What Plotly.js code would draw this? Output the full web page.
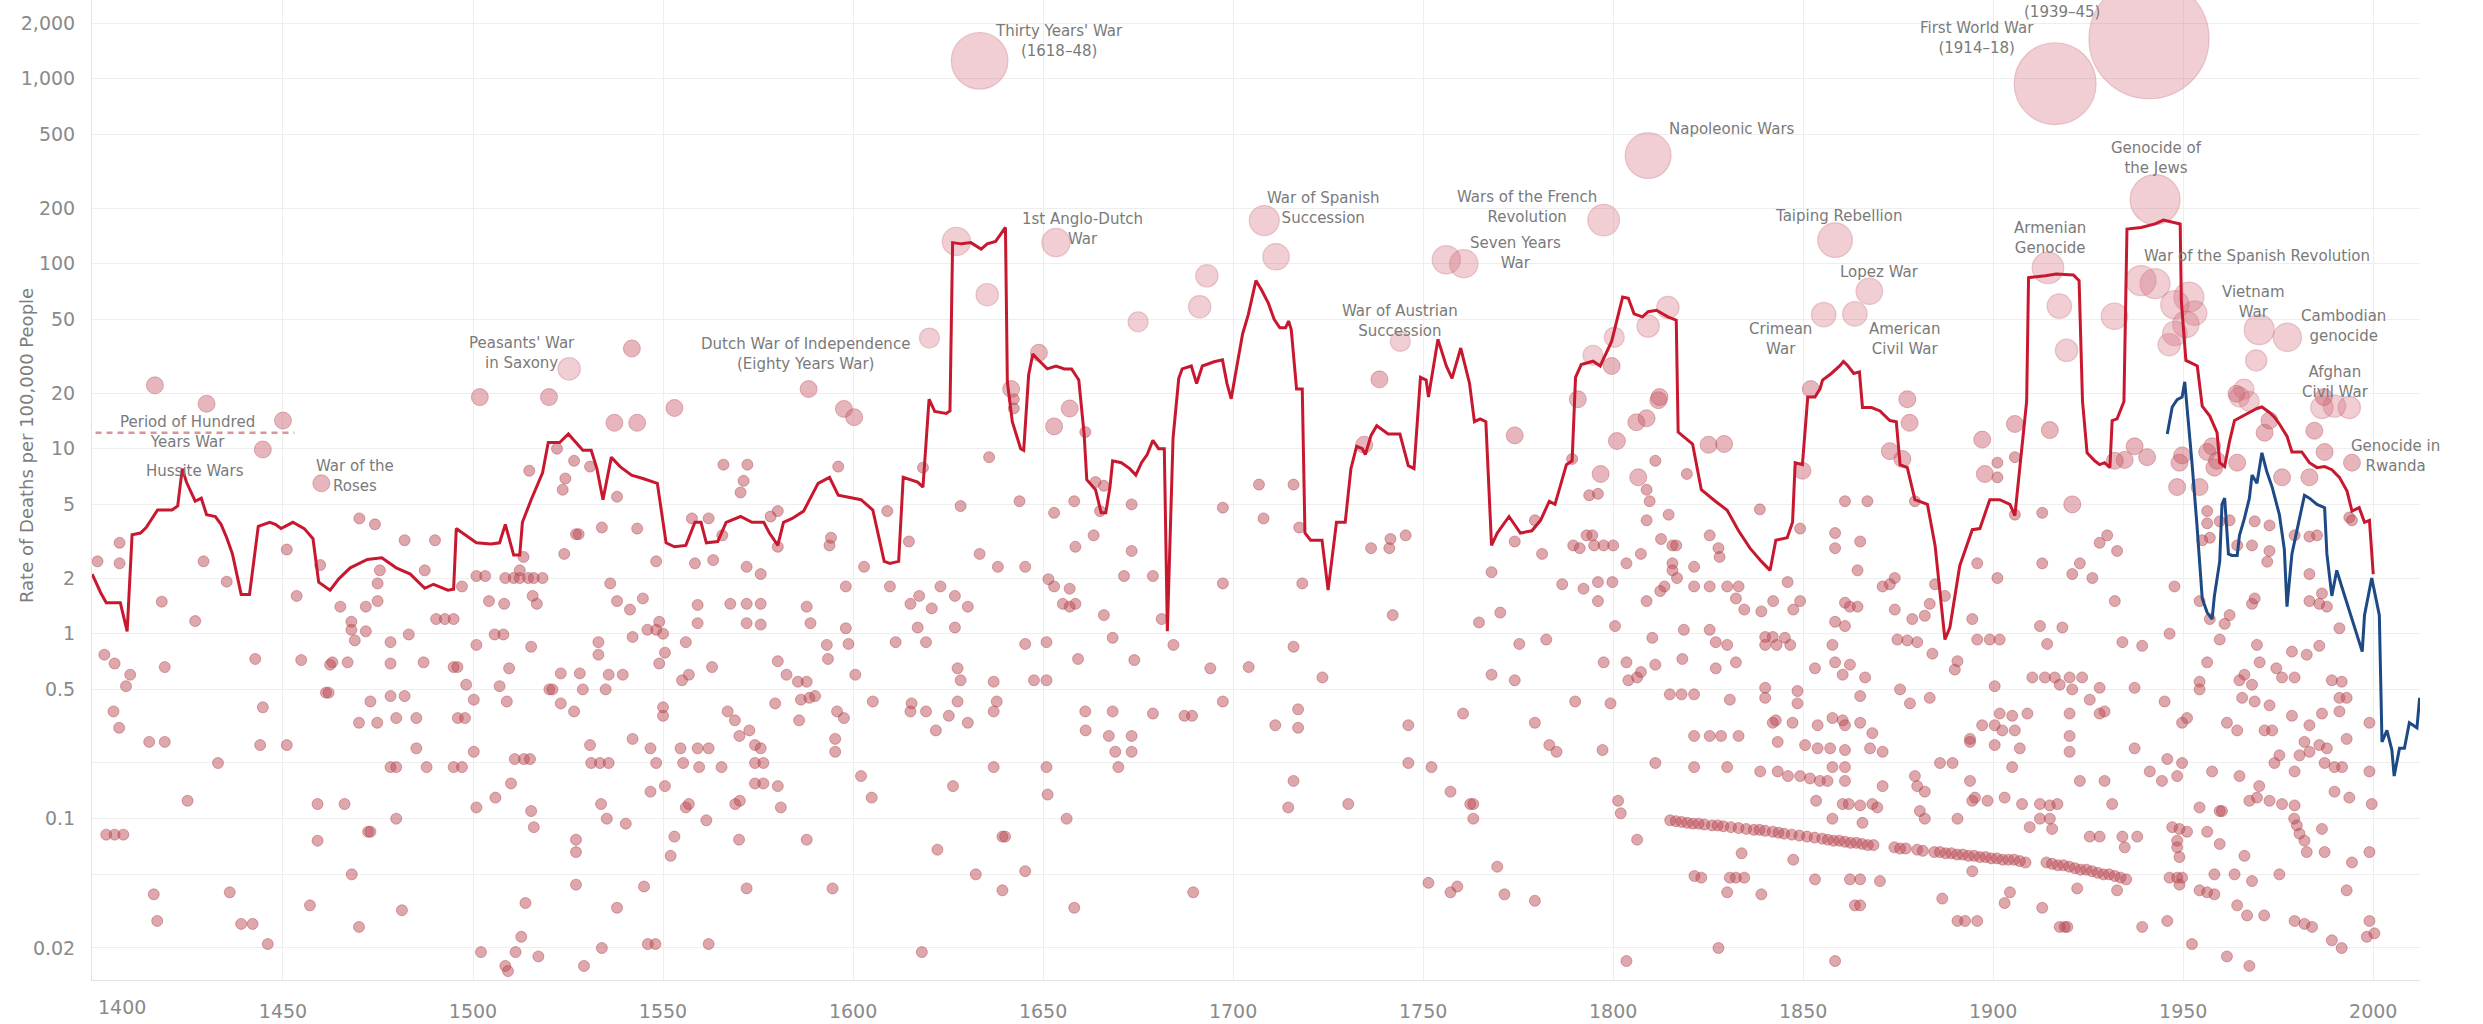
<!DOCTYPE html>
<html><head><meta charset="utf-8">
<script src="https://cdn.plot.ly/plotly-3.0.1.min.js"></script>
<style>html,body{margin:0;padding:0;background:#fff}</style>
</head><body>
<div id="chart" style="width:2483px;height:1024px"></div>
<script>
// ---------- DATA (year, deaths per 100,000 people) ----------
const xTickYears = [1450,1500,1550,1600,1650,1700,1750,1800,1850,1900,1950,2000];
const yTickValues = [0.02,0.05,0.1,0.2,0.5,1,2,5,10,20,50,100,200,500,1000,2000];
const yTickLabels = ['0.02','','0.1','','0.5','1','2','5','10','20','50','100','200','500','1,000','2,000'];

// Hundred Years' War period (years) and its rate
const hundredYearsSpan = [1337, 1453];
const hundredYearsRate = 12.2;

// Smoothed rate of all conflict deaths (red)
const redLine = [[1399.8,2.1],[1402,1.67],[1403.5,1.47],[1407.2,1.47],[1409,1.03],[1410.3,3.43],[1412.5,3.5],[1414,3.75],[1417,4.66],[1420.8,4.66],[1422.3,4.9],[1423.5,7.8],[1424.6,6.6],[1426.9,5.2],[1428.5,5.4],[1429.9,4.4],[1432.2,4.3],[1433.7,3.9],[1435.2,3.3],[1436.7,2.7],[1439,1.63],[1441.2,1.63],[1443.5,3.8],[1446.5,4.0],[1448,3.9],[1449.5,3.7],[1452.6,4.0],[1455.6,3.7],[1457.9,3.26],[1459.4,1.9],[1462.4,1.72],[1464.7,1.98],[1467.7,2.27],[1472.2,2.52],[1476,2.57],[1479.8,2.27],[1483.5,2.1],[1487.3,1.76],[1489.6,1.85],[1493.4,1.72],[1494.9,1.74],[1495.6,3.7],[1497.9,3.43],[1500.9,3.1],[1504.7,3.05],[1507,3.1],[1508.5,3.9],[1510.7,2.66],[1512.3,2.66],[1513,4.0],[1515.3,5.3],[1518.3,7.4],[1519.8,10.8],[1522.8,10.8],[1525.1,12],[1526.6,11.1],[1528.9,9.8],[1531.1,9.8],[1532.6,7.8],[1534.2,5.3],[1536.4,9.0],[1538.7,8.0],[1541.7,7.2],[1544.7,6.9],[1548.5,6.5],[1550.8,3.1],[1553,2.95],[1556,3.0],[1558.4,4.0],[1560,4.0],[1561.4,3.1],[1564.4,3.15],[1566.6,4.0],[1570.4,4.3],[1573.4,4.0],[1576.5,4.0],[1578,3.5],[1580.2,3.0],[1581.7,4.0],[1584,4.2],[1587,4.6],[1590.8,6.5],[1593.8,7.0],[1596.1,5.6],[1598.4,5.5],[1602.1,5.3],[1605.2,4.66],[1606.7,3.43],[1608.2,2.46],[1609.7,2.4],[1612,2.46],[1613.2,7.0],[1617,6.6],[1618.4,6.2],[1620,18.5],[1621.5,15.9],[1624.5,15.5],[1625.5,16],[1626.2,130],[1628.5,128],[1631,130],[1633.7,120],[1635.3,128],[1637.5,132],[1639,145],[1640.1,157],[1640.6,23],[1641.9,14],[1644.1,10],[1644.9,9.8],[1646.2,25],[1647.3,32.5],[1648.9,30],[1651.1,27],[1653.4,28],[1655.6,27],[1657.5,27],[1659.4,23.5],[1660.8,12],[1661.5,6.8],[1663.8,6.0],[1665.3,4.5],[1666.5,4.5],[1667.6,6.2],[1668.3,8.6],[1670.6,8.4],[1672.8,7.8],[1674.4,7.2],[1675.9,8.4],[1677.4,9.3],[1678.9,11.1],[1680.4,10],[1681.9,10],[1682.7,1.03],[1684.2,11.4],[1685.7,24],[1686.6,27],[1689,28],[1690.4,22.5],[1691.9,28],[1695,29.5],[1697.2,30.2],[1698.4,22.5],[1699.5,18.6],[1701,28],[1702.5,41.7],[1704,53],[1706,81],[1707.5,72],[1709.3,61],[1710.8,50],[1712.3,45],[1713.8,45],[1714.6,49],[1715.3,44],[1716.7,21],[1718.2,21],[1718.9,3.5],[1720.4,3.2],[1723.4,3.2],[1725,1.72],[1727.2,4.0],[1729.5,4.0],[1731,7.8],[1732.5,10.3],[1734,10],[1734.8,9.3],[1736.3,11.8],[1737.8,13.3],[1740.8,12],[1743.9,12],[1746.1,8.1],[1747.6,7.8],[1749.3,24.3],[1750.8,23.5],[1751.4,19],[1753.9,39],[1756.1,28],[1757.6,24],[1759.9,35],[1762.2,22.6],[1763.5,14],[1765,14.5],[1766.5,14],[1768,3.0],[1769.5,3.5],[1772.6,4.3],[1775.6,3.5],[1778.6,3.6],[1780.9,4.1],[1783.2,5.2],[1784.7,5.0],[1787.7,8.2],[1789.2,8.6],[1790.1,24.3],[1791.6,28.5],[1794.7,29.7],[1796.6,28],[1799.6,38],[1802.5,66],[1804,65],[1805.5,53.6],[1807.7,51.6],[1809.2,55],[1811.4,56],[1814.4,51.6],[1816.6,49.5],[1817.1,12.3],[1820.9,10.6],[1823.2,6.0],[1826.9,5.2],[1830,4.65],[1833,3.6],[1836,2.9],[1839,2.46],[1841.3,2.2],[1842.8,3.2],[1845.8,3.3],[1847.2,4.0],[1847.9,8.4],[1849.8,8.2],[1851.2,19],[1853.1,19],[1854.4,21],[1855.1,23.5],[1857.4,25.5],[1859.6,28],[1860.6,29.6],[1861.8,28],[1863.3,25.5],[1864.8,26],[1865.6,16.7],[1868,16.7],[1870.2,16],[1872.8,14.2],[1874.5,14],[1875.5,8.2],[1877.4,7.9],[1879.4,5.3],[1882.7,5.0],[1884.7,3.0],[1887.3,0.93],[1888.6,1.08],[1889.9,1.58],[1891.2,2.33],[1894.5,3.65],[1896.5,3.7],[1899.1,5.3],[1901.7,5.3],[1904.4,5.0],[1905.7,4.35],[1908.8,18],[1909.3,84],[1913.7,86],[1916.6,88],[1921.1,87],[1922.6,81],[1923.5,18],[1924.7,9.5],[1926.7,8.6],[1928,8.2],[1929.3,8.4],[1930.7,7.9],[1931.3,14.2],[1932.6,14.5],[1934.4,18],[1935.2,154],[1938.9,157],[1942.6,164],[1944.8,172],[1947.8,167],[1949.2,164],[1949.5,63],[1950.7,30],[1952.2,29],[1953.7,28],[1955,17],[1957,15],[1958.9,12.2],[1959.6,8.4],[1960.9,8.0],[1962.2,11],[1963.5,14.2],[1965.5,15],[1967.4,15.7],[1969.4,16.5],[1970.7,16.8],[1972.7,15.7],[1974,14.8],[1975.3,13.6],[1977.3,11.7],[1978.6,9.6],[1981.2,9.6],[1983.2,8.4],[1985.2,7.9],[1987.2,8.0],[1989.1,7.7],[1991.1,7.0],[1993.1,5.9],[1994.4,4.6],[1996.3,4.8],[1997.7,4.0],[1999,4.1],[2000,2.1]];

// Recent battle-death rate (blue)
const blueLine = [[1945.8,12],[1947.1,16.8],[1948.4,18.4],[1949.7,19],[1950.4,23],[1951,17],[1952.3,8.4],[1953.6,3.9],[1955,1.55],[1956.3,1.3],[1957.6,1.2],[1958.2,1.6],[1959.6,2.46],[1960.2,5.0],[1960.9,5.4],[1961.9,2.7],[1962.8,2.65],[1964.2,2.65],[1964.8,3.4],[1966.1,4.2],[1967.4,5.4],[1968.1,7.2],[1969.4,6.5],[1970.7,9.5],[1972,7.5],[1973.4,6.2],[1975.3,4.4],[1976.6,2.86],[1977.3,1.4],[1978.6,2.7],[1979.9,3.6],[1981.9,5.6],[1983.2,5.4],[1985.2,5.0],[1987.2,4.8],[1987.8,2.7],[1989.1,1.6],[1990.4,2.2],[1991.7,1.8],[1993.7,1.33],[1995.7,0.98],[1997.1,0.8],[1997.7,1.26],[1999.6,2.0],[2001.6,1.26],[2002.3,0.26],[2003.6,0.30],[2004.9,0.235],[2005.5,0.17],[2006.9,0.24],[2008.2,0.24],[2009.5,0.33],[2011.5,0.31],[2012.2,0.45]];

// Individual conflicts (small dots)
const dots1400s = [[1401.2,2.46],[1407,2.4],[1407,3.1],[1403,0.77],[1405.7,0.69],[1409.8,0.6],[1408.7,0.52],[1405.4,0.38],[1406.9,0.31],[1403.5,0.082],[1405.7,0.082],[1408,0.082],[1418.1,1.49],[1418.9,0.66],[1414.8,0.26],[1418.9,0.26],[1416,0.039],[1416.9,0.028],[1424.9,0.125],[1426.9,1.17],[1429.1,2.46],[1435.2,1.91],[1432.9,0.2],[1436,0.04],[1439,0.027],[1442,0.027],[1442.7,0.73],[1444.7,0.4],[1444,0.25],[1446,0.021],[1451,2.85],[1451,0.25],[1453.6,1.6],[1454.8,0.72],[1457.1,0.034],[1459.1,0.12],[1459.1,0.076],[1459.8,2.35],[1461.3,0.48],[1462,0.48],[1462.4,0.68],[1463,0.7],[1467,0.7],[1465.1,1.4],[1466.2,0.12],[1468,1.16],[1468,1.05],[1468.9,0.92],[1468.1,0.05],[1470.1,4.2],[1470,0.026],[1471.8,1.03],[1471.8,1.4],[1474.9,1.5],[1473,0.43],[1472.4,0.085],[1473,0.085],[1474.2,3.9],[1474.9,1.87],[1475.5,2.2],[1470,0.33],[1474.8,0.33],[1478.3,0.9],[1478.3,0.69],[1478.3,0.46],[1482,0.46],[1479.8,0.35],[1478.3,0.19],[1479.8,0.19],[1479.8,0.1],[1481.3,0.032],[1482,3.2],[1483.1,0.99],[1485.1,0.35],[1485.1,0.24],[1487,0.7],[1487.8,0.19],[1487.3,2.2],[1490,3.2],[1490.3,1.2],[1492.6,1.2],[1494.9,1.2],[1494.9,0.66],[1495.9,0.66],[1494.9,0.19],[1497.1,0.19],[1496,0.35],[1497.9,0.35],[1497.1,1.8],[1498.2,0.53]];
const dots1500s = [[1500.2,0.44],[1500.2,0.23],[1500.9,0.115],[1500.9,0.87],[1500.9,2.05],[1503.2,2.05],[1502.1,0.019],[1504.2,1.5],[1508.2,1.45],[1505.7,0.99],[1508,0.99],[1505.9,0.13],[1507,0.52],[1508.5,2.0],[1510.7,2.0],[1512.3,2.0],[1514.5,2.0],[1516,2.0],[1508.9,0.43],[1509.5,0.65],[1510,0.155],[1508.5,0.016],[1509.2,0.015],[1511.2,0.019],[1511,0.21],[1513.4,0.21],[1515,0.21],[1512.3,2.2],[1513.3,2.6],[1512.7,0.023],[1513.8,0.035],[1515.3,0.11],[1516,0.09],[1514.8,7.6],[1515.7,1.6],[1516.8,1.45],[1515.3,0.85],[1517.2,0.018],[1518.3,2.0],[1520.1,0.5],[1520.9,0.5],[1522.1,10],[1523.1,0.61],[1523.1,0.42],[1523.6,6.0],[1524.3,6.9],[1524,2.7],[1526.6,8.6],[1527.1,3.45],[1527.8,3.45],[1526.6,0.38],[1527.1,0.077],[1527.1,0.066],[1527.1,0.044],[1528.1,0.61],[1528.9,0.5],[1529.2,0.016],[1530.8,8.0],[1530.8,0.25],[1531.1,0.2],[1533.4,0.2],[1535.7,0.2],[1533,0.9],[1533,0.77],[1533.7,0.12],[1533.9,0.02],[1533.9,3.75],[1534.9,0.5],[1535.2,0.1],[1535.7,0.6],[1536.1,1.87],[1537.9,5.5],[1537.9,1.5],[1537.9,0.033],[1539.4,0.6],[1540.2,0.094],[1541.3,1.35],[1542,0.96],[1542,0.27],[1543.2,3.7],[1544.7,1.55],[1545,0.043],[1545.9,1.05],[1548.2,1.05],[1546.7,0.24],[1546.7,0.14],[1550.5,0.15],[1548.2,0.2],[1546,0.021],[1548,0.021],[1548.2,2.46],[1549,1.16],[1549,0.69],[1550,1.0],[1550.5,0.79],[1550,0.4],[1550,0.36],[1552,0.063],[1553,0.08],[1554.6,0.24],[1555.3,0.2],[1555,0.56],[1556,0.115],[1556,0.9],[1556.8,0.6],[1556.8,0.12],[1557.6,4.2],[1562,4.2],[1558.4,2.4],[1559.1,1.43],[1559.1,1.14],[1559.1,0.24],[1562,0.24],[1559.5,0.19],[1561.4,0.098],[1562,0.021],[1562.9,0.66],[1563.2,2.5],[1565.4,0.19],[1565.6,3.4],[1565.9,8.2],[1567,0.38],[1568.9,0.34],[1567.7,1.45],[1569,0.12],[1570.2,0.125],[1570,0.077],[1570.1,0.28],[1570.4,5.8],[1571.2,6.7],[1572.2,8.2],[1572,2.3],[1575.7,2.1],[1572,1.45],[1575.7,1.45],[1572,1.14],[1575.7,1.12],[1572,0.042],[1572.7,0.3],[1574.2,0.25],[1575.7,0.24],[1574.2,0.2],[1576.4,0.2],[1574.2,0.155],[1576.4,0.155],[1580.2,0.15],[1578.3,4.3],[1579.5,0.42],[1580.2,0.71],[1580.2,2.95],[1581,0.115],[1582.5,0.6],[1580.2,4.6],[1585.5,0.55],[1587.8,0.55],[1586.3,0.44],[1588.5,0.45],[1590,0.46],[1585.8,0.34],[1587.8,1.4],[1588.8,1.14],[1587.8,0.077],[1593.1,0.87],[1593.4,0.73],[1593.8,3.0],[1594.2,3.3],[1594.6,0.042],[1595.3,0.27],[1595.3,0.23],[1595.8,0.38],[1596.1,8.0],[1598.1,1.8],[1598.1,1.07],[1597.6,0.35],[1598.8,0.88]];
const dots1600s = [[1600.6,0.6],[1602.1,0.17],[1602.9,2.3],[1604.9,0.13],[1605.2,0.43],[1609,4.6],[1609.7,1.8],[1611.2,0.9],[1614.7,3.15],[1618.4,7.9],[1615.1,1.45],[1617.4,1.6],[1620.7,1.37],[1617,1.08],[1619.2,0.9],[1623,1.8],[1626.8,1.6],[1630.2,1.4],[1626.8,1.08],[1627.5,0.65],[1628.3,0.56],[1627.5,0.43],[1615.4,0.42],[1615.1,0.38],[1619.2,0.38],[1625.2,0.36],[1630.2,0.33],[1621.8,0.3],[1626.3,0.15],[1622.2,0.068],[1618.1,0.019],[1628.3,4.9],[1633.3,2.7],[1632.3,0.05],[1635.8,9.0],[1638.1,2.3],[1637,0.55],[1637.8,0.43],[1637,0.38],[1637,0.19],[1639.3,0.08],[1640,0.08],[1639.3,0.041],[1642.3,18.5],[1642.3,16.5],[1643.8,5.2],[1645.3,2.3],[1645.3,0.88],[1645.3,0.052],[1647.6,0.56],[1650.9,0.56],[1650.9,0.9],[1650.9,0.19],[1651.2,0.135],[1651.4,1.97],[1652.9,1.8],[1652.9,4.5],[1655.2,1.45],[1657,1.4],[1658.5,1.45],[1657,1.75],[1656.2,0.1],[1658.2,5.2],[1658.5,2.95],[1658.2,0.033],[1659.2,0.73],[1661.1,12.3],[1661.1,0.38],[1661.2,0.3],[1663.3,3.4],[1665,4.6],[1663.8,6.6],[1666,6.3],[1666,1.26],[1667.3,0.28],[1668.3,0.95],[1668.3,0.38],[1669,0.23],[1669.8,0.19],[1671.3,2.05],[1673.3,2.8],[1673.3,5.0],[1673.3,0.28],[1673.3,0.23],[1674,0.72],[1678.9,2.05],[1678.9,0.37],[1681.2,1.2],[1684.3,0.87],[1687.2,0.36],[1689.2,0.36],[1689.5,0.04],[1694,0.65],[1697.3,4.8],[1697.3,1.87],[1697.3,0.43]];
const dots1700s = [[1704.1,0.66],[1706.8,6.4],[1708,4.2],[1711.1,0.32],[1714.5,0.115],[1715.9,6.4],[1715.9,0.85],[1715.9,0.16],[1717.1,0.39],[1717.1,0.31],[1717.4,3.75],[1718.2,1.87],[1723.5,0.58],[1730.3,0.12],[1736.3,2.9],[1741.1,2.9],[1741.4,3.25],[1745.4,3.4],[1742,1.26],[1746.1,0.32],[1746.1,0.2],[1751.4,0.045],[1752.2,0.19],[1757.2,0.14],[1757.2,0.04],[1759,0.043],[1760.5,0.37],[1762.4,0.12],[1763.2,0.12],[1763.2,0.1],[1764.7,1.15],[1768,0.6],[1768,2.15],[1769.5,0.055],[1770.3,1.3],[1771.4,0.039],[1774.1,0.56],[1774.1,3.15],[1775.3,0.88],[1779.4,0.33],[1779.4,0.036],[1779.4,4.1],[1781.3,2.7],[1782.4,0.93],[1783.2,0.25],[1785.1,0.23],[1786.6,1.85],[1789.2,8.8],[1789.5,3.0],[1790,0.43],[1792.2,1.75],[1793,3.4],[1794.5,3.4],[1791.2,2.9],[1795,3.0],[1797.5,3.0],[1796,1.9],[1799.8,1.9],[1796,1.5],[1793.7,5.6],[1796,5.7],[1797.5,0.7],[1797.2,0.235],[1799.3,0.42]];
const dots1800s = [[1800,3.0],[1800.5,1.1],[1801.3,0.125],[1802,0.107],[1803.5,2.4],[1803.5,0.7],[1804,0.56],[1803.5,0.017],[1806.3,0.077],[1807.3,2.7],[1808.8,6.0],[1809.6,5.2],[1808.8,4.1],[1806.3,0.58],[1807.3,0.62],[1808.8,1.5],[1810.3,0.95],[1811.1,0.68],[1811.1,0.2],[1811.1,8.6],[1812.6,3.25],[1814.6,4.4],[1815.6,2.4],[1814.9,0.47],[1818,0.47],[1821.3,0.47],[1815.6,3.0],[1816.6,3.0],[1815.6,2.2],[1816.8,2.0],[1813.5,1.8],[1812.4,1.7],[1818.2,0.73],[1818.6,1.05],[1819.4,7.3],[1821.4,0.049],[1823.2,0.048],[1830.7,0.048],[1832.3,0.048],[1834.5,0.048],[1825.4,1.05],[1827,0.9],[1825.4,3.4],[1827.7,2.9],[1828,2.6],[1827,0.65],[1827.7,0.02],[1830,0.87],[1830.7,0.44],[1830,0.19],[1830,0.04],[1832.3,0.7],[1821.3,1.8],[1825.4,1.8],[1830,1.8],[1833,1.8],[1821.3,0.28],[1825.4,0.28],[1828.4,0.28],[1833,0.28],[1821.3,0.19],[1821.3,2.3],[1832.3,1.55],[1834.5,1.35],[1833.8,0.065],[1839,1.32],[1838.6,4.7],[1840,0.96],[1842,0.96],[1840,0.87],[1843,0.87],[1839,0.039],[1842.1,1.5],[1842.8,0.34],[1843.3,0.18],[1847.4,0.06],[1847.4,1.35],[1845.9,1.9],[1849.2,3.7],[1849.2,1.5],[1845.2,0.95],[1846.6,0.87],[1853.1,0.65],[1840,0.51],[1840,0.45],[1843.3,0.26],[1848.5,0.49],[1848.5,0.42],[1847.2,0.33],[1842,0.33],[1853.8,0.32],[1857.7,0.35],[1860.4,0.34],[1861,0.32],[1865,0.46],[1865,0.33],[1868.2,0.29],[1838.7,0.18],[1846,0.17],[1849.2,0.17],[1851.8,0.165],[1854.4,0.16],[1856.4,0.16],[1861,0.16],[1850.5,0.25],[1853.8,0.24],[1857.1,0.24],[1861,0.235],[1857.7,0.19],[1861,0.19],[1860.4,0.12],[1862,0.12],[1865,0.118],[1868.2,0.12],[1869.5,0.115],[1865.6,0.095],[1867.6,0.24],[1870.9,0.23],[1870.9,0.15],[1853.4,0.125],[1853.1,0.047],[1857.7,0.1],[1858.4,0.017],[1862.3,0.047],[1865,0.047],[1870.2,0.046],[1863.6,0.034],[1865,0.034],[1857.7,0.87],[1858.4,0.7],[1860.4,0.6],[1862.3,0.68],[1866.3,0.58],[1861,1.47],[1862.3,1.4],[1864.3,1.4],[1858.4,1.16],[1861,1.1],[1858.4,3.5],[1858.4,2.9],[1865,3.15],[1864.3,2.2],[1870.9,1.8],[1874.1,2.0],[1872.8,1.85],[1861,5.2],[1866.9,5.2],[1874.1,1.35],[1874.8,0.93],[1877.4,0.92],[1880,0.9],[1878.7,1.2],[1882,1.25],[1875.5,0.5],[1878.1,0.42],[1883.3,0.45],[1884,0.78],[1884.7,1.85],[1883.3,1.45],[1879.4,5.2],[1880,0.15],[1882,0.14],[1879.4,0.17],[1880.7,0.11],[1882,0.1],[1886.6,0.037],[1886,0.2],[1889.3,0.2],[1890.6,0.1],[1894.5,0.125],[1890.6,0.028],[1892.6,0.028],[1895.8,0.028],[1894.5,0.052],[1893.9,0.16],[1893.9,0.27],[1897.1,0.32],[1893.9,0.26],[1895.2,0.13],[1898.5,0.125],[1887.3,1.6],[1889.9,0.64],[1890.6,0.71],[1895.8,0.93],[1899.1,0.93],[1894.5,1.2],[1895.8,2.4]];
const dots1900s = [[1900.4,0.32],[1900.4,0.25],[1901.7,0.37],[1905,0.36],[1909,0.37],[1902.4,0.3],[1905.7,0.3],[1907,0.24],[1905,0.19],[1903,0.13],[1907.6,0.12],[1904.4,0.04],[1903,0.035],[1912.9,0.033],[1918.8,0.026],[1901.7,0.93],[1900.4,0.52],[1901.1,2.0],[1901.1,7.0],[1901.1,8.4],[1905.7,9.0],[1905.7,4.4],[1912.9,4.5],[1912.9,2.4],[1912.3,1.1],[1918.2,1.08],[1914.2,0.88],[1910.3,0.58],[1913.6,0.58],[1916.2,0.58],[1920.1,0.58],[1923.4,0.58],[1917.5,0.53],[1920.8,2.1],[1922.8,2.4],[1926.1,2.0],[1928,3.1],[1930,3.4],[1932.6,2.8],[1932,1.5],[1934,0.9],[1939.2,0.86],[1920.8,0.5],[1928,0.51],[1929.3,0.38],[1937.2,0.51],[1928,0.37],[1925.4,0.44],[1920.1,0.37],[1920.1,0.28],[1920.1,0.23],[1922.8,0.16],[1929.3,0.16],[1931.3,0.12],[1934,0.08],[1937.9,0.08],[1934.6,0.07],[1925.4,0.08],[1928,0.08],[1912.3,0.12],[1914.9,0.118],[1916.9,0.12],[1912.3,0.1],[1914.9,0.1],[1909.6,0.09],[1915.5,0.088],[1922.1,0.042],[1932.6,0.041],[1917.5,0.026],[1919.5,0.026],[1939.2,0.026],[1937.2,0.24],[1945.1,0.43],[1946.4,1.0],[1947.7,1.8],[1949.7,0.33],[1951,0.35],[1945.8,0.21],[1949.7,0.2],[1941.2,0.18],[1944.4,0.16],[1948.4,0.17],[1947.1,0.09],[1949,0.088],[1951,0.085],[1948.4,0.076],[1948.4,0.07],[1949,0.062],[1946.4,0.048],[1948.4,0.048],[1949.7,0.048],[1949,0.044],[1954.3,0.041],[1956.3,0.04],[1958.2,0.039],[1945.8,0.028],[1952.3,0.021],[1961.5,0.018],[1967.4,0.016],[1954.3,0.115],[1956.3,0.085],[1959.6,0.073],[1959.6,0.11],[1958.2,0.05],[1963.5,0.05],[1964.2,0.034],[1966.8,0.03],[1971.3,0.03],[1966.1,0.063],[1968.1,0.046],[1967.4,0.125],[1970,0.15],[1969.4,0.13],[1972.7,0.125],[1976,0.12],[1979.3,0.118],[1975.3,0.05],[1979.2,0.1],[1979.9,0.092],[1980.6,0.083],[1981.9,0.076],[1982.5,0.066],[1986.5,0.088],[1987.2,0.066],[1979.3,0.028],[1981.9,0.027],[1983.9,0.026],[1989.1,0.022],[1991.7,0.02],[1993,0.041],[1994.4,0.058],[1999,0.066],[1999.6,0.12],[1999,0.028],[1998.3,0.023],[2000.3,0.024],[1999,0.18],[1999,0.33],[1993.7,0.13],[1989.8,0.14],[1987.2,0.2],[1989.8,0.19],[1991.8,0.19],[1985.8,0.25],[1987.8,0.24],[1983.2,0.23],[1980.6,0.22],[1975.3,0.22],[1974,0.2],[1979.3,0.18],[1964.8,0.17],[1957.6,0.18],[1960.2,0.11],[1954.3,0.55],[1954.3,0.5],[1956.3,0.7],[1961.5,0.33],[1964.2,0.3],[1965.5,0.45],[1968.8,0.43],[1966.1,0.6],[1968.1,0.53],[1972.7,0.41],[1971.4,0.3],[1973.4,0.3],[1978.6,0.36],[1983.2,0.32],[1986.5,0.37],[1989.1,0.56],[1991.7,0.55],[1991.1,0.45],[1993,0.45],[1991.1,0.38],[1993,0.27],[1981.9,0.26],[1964.8,0.56],[1976,0.58],[1979.3,0.58],[1970.1,0.7],[1974.5,0.65],[1978.6,0.8],[1982.5,0.77],[1985.8,0.86],[1991.1,1.07],[1969.4,0.87],[1960.9,1.13],[1962.2,1.26],[1957,1.2],[1959.6,0.93],[1954.3,1.5],[1968.1,1.45],[1968.8,1.55],[1983.2,1.5],[1985.8,1.45],[1987.8,1.4],[1972.1,2.45],[1979.3,3.4],[1983.2,2.1],[1972.7,2.8],[1968.1,3.0],[1964.2,3.0],[1959.6,4.05],[1956.3,3.95],[1962.2,4.1],[1968.8,4.05],[1972.7,3.85],[1957,3.3],[1983.2,3.35],[1985.2,3.4],[1993.7,4.25],[1986.5,1.65],[1955,3.2],[1956.3,4.6],[1994.4,4.1]];
// dense rows of small conflicts (19th–20th c.)
const dotRows = [[1815,0.098],[1816.5,0.097],[1818,0.096],[1819.5,0.095],[1821,0.094],[1822.5,0.094],[1824,0.093],[1826,0.092],[1827.5,0.092],[1829,0.091],[1831,0.09],[1833,0.089],[1835,0.088],[1837,0.087],[1838.5,0.087],[1840,0.086],[1842,0.085],[1843.5,0.084],[1845,0.083],[1847,0.082],[1849,0.081],[1851,0.08],[1853,0.079],[1855,0.078],[1856.5,0.077],[1858,0.076],[1859.5,0.076],[1861,0.075],[1862.5,0.074],[1864,0.074],[1865.5,0.073],[1867,0.072],[1868.5,0.072],[1874,0.07],[1875.5,0.069],[1877,0.069],[1880,0.068],[1881.5,0.067],[1884.5,0.066],[1886,0.066],[1887.5,0.065],[1889,0.065],[1890.5,0.064],[1892,0.064],[1893.5,0.063],[1895,0.063],[1896.5,0.062],[1898,0.062],[1899.5,0.061],[1901,0.061],[1902.5,0.06],[1904,0.06],[1905.5,0.06],[1907,0.059],[1908.5,0.058],[1914,0.058],[1915.5,0.057],[1917,0.056],[1918.5,0.056],[1920,0.055],[1921.5,0.054],[1923,0.053],[1924.5,0.053],[1926,0.052],[1927.5,0.051],[1929,0.05],[1930.5,0.05],[1932,0.049],[1933.5,0.048],[1935,0.047]];

// Medium-sized conflicts
const midDots = [[1416.3,22],[1429.9,17.5],[1450,14.2],[1444.7,9.9],[1460.1,6.5],[1537.2,13.8],[1543.2,13.8],[1553,16.6],[1588.3,21],[1597.6,16.4],[1600.3,14.8],[1641.6,21],[1652.9,13.2],[1657,16.5],[1734.5,10.5],[1774.1,11.8],[1790.7,18.5],[1796.7,7.3],[1801,11],[1806.1,13.9],[1808.8,14.6],[1806.6,7],[1811.9,18.3],[1825.1,10.5],[1829.2,10.6],[1877.4,18.5],[1878,13.8],[1897.1,11.2],[1897.8,7.3],[1905.7,13.6],[1914.9,12.6],[1920.8,5.0],[1954.3,6.2],[1948.4,6.2],[1949.7,9.2],[1956.3,9.6],[1958.9,8.6],[1964.2,8.4],[1958.2,7.9],[1971.4,12.2],[1976,7.0],[1983.2,7.0],[1984.5,12.5],[1987.2,9.6],[1994.4,8.4],[1972.7,14.2],[1937.2,10.3],[1940.5,9.0],[1934.6,8.7],[1932,8.6],[1949,8.4],[1957.6,10.3],[1849.8,7.6],[1872.8,9.7],[1876.1,8.8],[1501.8,19],[1520,19],[1541.8,34.8],[1648.9,33],[1812.2,19],[1852,21],[1799.6,28],[1738.5,23.7],[1964,19.8],[1987,19]];

// Major conflicts: year, rate, relative size (bubble area)
const majorYears = [1941,1916.3,1633.3,1809.2,1942.6,1858.4,1914.4,1797.5,1708.2,1711.3,1653.4,1756.1,1760.7,1627.2,1867.4,1855.4,1863.6,1970,1977.4,1938.9,1942.6,1951.5,1947.8,1953,1950.7,1947.8,1946.3,1917.4,1919.3,1931.9,1635.3,1693.1,1691.2,1675,1620.1,1744,1525.3,1809.2,1814.4,1800.3,1969.2,1986.5,1989.8,1993.7,1964.8,1967.4,1966,1794.7];
const majorRates = [1645,940,1250,384,222,134,95,172,171,109,130,105,100,132,71,53,53.5,44,40,81,78,66,60,54,47,42,36.5,59,34,52,68,86,58.5,48.5,39.6,38,27,46,58,40,30,16.7,17,16.7,19,18,21,32];
const majorSize = [144,67,32,21,25,12,10,10,9,7,8,8,8,8,7,6,6,9,8,9,9,9,8,6,7,6,5,6,5,7,5,5,5,4,4,4,5,5,5,4,4.5,5,5,5,4,4,4,4];

// ---------- CHART ----------
const FONT = 'DejaVu Sans, Arial, sans-serif';
const LABEL = '#7a7a7a';
const px = a => a.map(p => p[0]);
const py = a => a.map(p => p[1]);
const smallDots = [].concat(dots1400s, dots1500s, dots1600s, dots1700s, dots1800s, dots1900s, dotRows);

const traces = [
  {type:'scatter', mode:'markers', x:px(smallDots), y:py(smallDots), hoverinfo:'skip',
   marker:{size:11, color:'rgba(185,72,82,0.48)', line:{color:'rgba(170,60,70,0.42)', width:1}}},
  {type:'scatter', mode:'markers', x:px(midDots), y:py(midDots), hoverinfo:'skip',
   marker:{size:17, color:'rgba(200,88,102,0.44)', line:{color:'rgba(185,80,95,0.42)', width:1}}},
  {type:'scatter', mode:'markers', x:majorYears, y:majorRates, hoverinfo:'skip',
   marker:{size:majorSize, sizemode:'area', sizeref:0.02, color:'rgba(210,104,120,0.46)', line:{color:'rgba(200,105,120,0.5)', width:1.2}}},
  {type:'scatter', mode:'lines', x:hundredYearsSpan, y:[hundredYearsRate, hundredYearsRate], hoverinfo:'skip',
   line:{color:'rgba(215,135,145,0.9)', width:2.5, dash:'6px,5px'}},
  {type:'scatter', mode:'lines', x:px(redLine), y:py(redLine), hoverinfo:'skip',
   line:{color:'#c8182f', width:3}},
  {type:'scatter', mode:'lines', x:px(blueLine), y:py(blueLine), hoverinfo:'skip',
   line:{color:'#1d4a85', width:3}}
];

function lab(text, year, rate, extra) {
  return Object.assign({text:text, x:year, y:Math.log10(rate), xref:'x', yref:'y', showarrow:false,
    xanchor:'center', yanchor:'middle', font:{family:FONT, size:15, color:LABEL}}, extra || {});
}

const annotations = [
  lab('Period of Hundred<br>Years War', 1425, 12.36),
  lab('Hussite Wars', 1426.8, 7.6),
  lab('War of the<br>Roses', 1469, 7.14),
  lab("Peasants' War<br>in Saxony", 1512.9, 33),
  lab('Dutch War of Independence<br>(Eighty Years War)', 1587.6, 32.7),
  lab("Thirty Years' War<br>(1618–48)", 1654.2, 1603),
  lab('1st Anglo-Dutch<br>War', 1660.5, 154.5),
  lab('War of Spanish<br>Succession', 1723.7, 201),
  lab('Wars of the French<br>Revolution', 1777.4, 203),
  lab('Seven Years<br>War', 1774.2, 114.5),
  lab('War of Austrian<br>Succession', 1744, 49.2),
  lab('Napoleonic Wars', 1831.3, 537),
  lab('Taiping Rebellion', 1859.2, 181.6),
  lab('Lopez War', 1870, 90.6),
  lab('Crimean<br>War', 1844, 39.4),
  lab('American<br>Civil War', 1876.6, 39.4),
  lab('First World War<br>(1914–18)', 1895.8, 1660),
  lab('Genocide of<br>the Jews', 1942.9, 374),
  lab('Armenian<br>Genocide', 1915, 138),
  lab('War of the Spanish Revolution', 1969.5, 110),
  lab('Vietnam<br>War', 1968.4, 62.4),
  lab('Cambodian<br>genocide', 1992.1, 46.2),
  lab('Afghan<br>Civil War', 1990, 23),
  lab('Genocide in<br>Rwanda', 2005.8, 9.16),
  {text:'(1939–45)', x:1918.2, xref:'x', y:1, yref:'paper', yanchor:'top', yshift:-1,
   xanchor:'center', showarrow:false, font:{family:FONT, size:15, color:LABEL}},
  {text:'1400', x:1407.6, xref:'x', y:0, yref:'paper', yanchor:'top', yshift:-14, xanchor:'center',
   showarrow:false, font:{family:FONT, size:19, color:'#8a8a8a'}},
  {text:'Rate of Deaths per 100,000 People', x:-0.0279, xref:'paper', y:0.5449, yref:'paper',
   textangle:-90, showarrow:false, xanchor:'center', yanchor:'middle', font:{family:FONT, size:18, color:'#7d7d7d'}}
];

const layout = {
  width:2483, height:1024,
  margin:{l:92, r:63, t:0, b:44, pad:0},
  paper_bgcolor:'#ffffff', plot_bgcolor:'#ffffff',
  showlegend:false,
  font:{family:FONT, color:'#8a8a8a'},
  xaxis:{range:[1399.75, 2012.3], tickmode:'array', tickvals:xTickYears, ticks:'',
    ticklabelstandoff:14, tickfont:{family:FONT, size:19, color:'#8a8a8a'},
    showgrid:true, gridcolor:'#eeeeee', gridwidth:1, zeroline:false,
    showline:true, linecolor:'#e2e2e2', linewidth:1, mirror:false},
  yaxis:{type:'log', range:[-1.872, 3.4254], tickmode:'array', tickvals:yTickValues, ticktext:yTickLabels,
    ticks:'', ticklabelstandoff:12, tickfont:{family:FONT, size:19, color:'#8a8a8a'},
    showgrid:true, gridcolor:'#eeeeee', gridwidth:1, zeroline:false,
    showline:true, linecolor:'#e2e2e2', linewidth:1},
  annotations:annotations
};

Plotly.newPlot('chart', traces, layout, {staticPlot:true, displayModeBar:false});
</script>
</body></html>
